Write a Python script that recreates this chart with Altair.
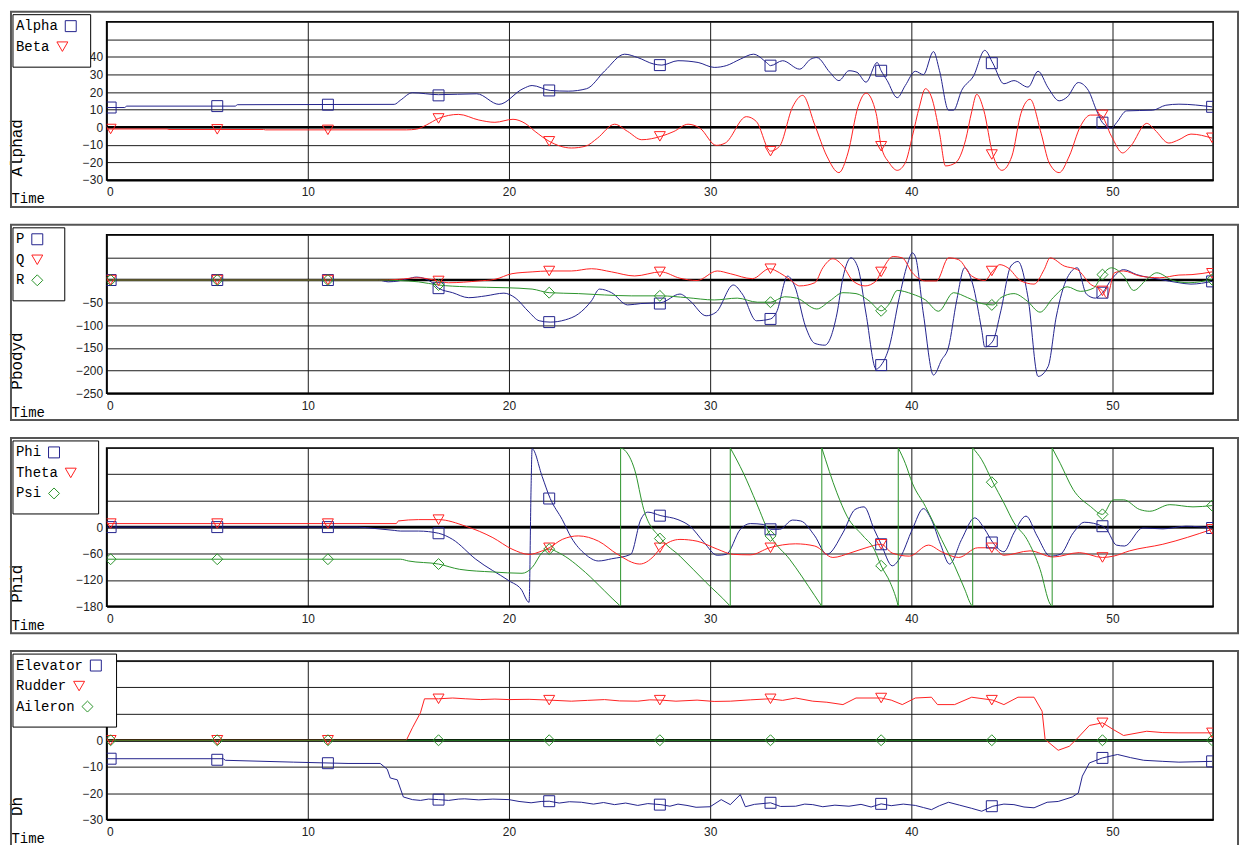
import altair as alt
import pandas as pd

# ---------------- data ----------------
MARK_T = [0.2, 5.5, 11, 16.5, 22, 27.5, 33, 38.5, 44, 49.5, 54.95]

# Panel 1 : Alphad
ALPHA_T = [0, 0.9, 1.0, 6.4, 6.5, 14.3, 14.6, 15.2, 16.5, 18.4, 19.5, 20.7, 21.15, 22.05, 22.95, 23.86,
           24.76, 25.75, 26.4, 27.2, 27.6, 28.4, 29.4, 30.2, 30.8, 31.5, 32.15, 32.8, 33.0, 33.6, 34.45,
           35.0, 35.3, 35.95, 36.4, 36.9, 37.3, 37.75, 38.3, 38.5, 38.8, 39.3, 39.7, 40.2, 40.6, 41.1,
           41.4, 41.85, 42.1, 42.5, 43.1, 43.65, 44.05, 44.6, 45.1, 45.8, 46.3, 46.8, 47.35, 47.75, 48.3,
           48.8, 49.2, 49.5, 49.95, 50.2, 50.7, 52.0, 52.65, 53.3, 54.95]
ALPHA_V = [11.2, 11.2, 12, 12, 12.8, 13, 15.3, 19.6, 18.5, 19, 13, 21.9, 23.7, 20.9, 20.5, 21.9,
           32, 41.5, 39.6, 35.9, 35.3, 37.8, 36.8, 34, 35, 38.7, 41.5, 36.8, 35, 37.8, 33,
           38.7, 39.6, 31.2, 26.5, 32.1, 31.2, 25.6, 36.8, 32.1, 26.5, 16.8, 23.7, 31.8, 29.9, 43,
           32.1, 9.7, 9.7, 20.9, 29.3, 43.7, 36.4, 24.7, 26.5, 22.8, 31.8, 22.4, 15, 17.2, 25.4,
           20.9, 9.7, 2.6, -0.6, 2.6, 9.3, 9.7, 12.5, 13.1, 11.6]
ALPHA_M = [11.2, 12, 12.8, 18.1, 20.9, 35.3, 35, 32.1, 36.4, 2.6, 11.6]

BETA_T = [0, 3.0, 3.1, 7.8, 7.9, 14.9, 15.4, 15.9, 16.5, 17.5, 18.5, 19.3, 20.2, 20.8, 21.3, 22.0, 23.1,
          23.8, 24.4, 25.25, 25.9, 26.6, 27.55, 28.2, 28.9, 29.5, 30.3, 30.75, 31.8, 32.3, 33.0, 33.45,
          34.1, 34.6, 35.2, 35.8, 36.4, 36.85, 37.35, 37.75, 38.25, 38.5, 38.9, 39.3, 39.7, 40.05, 40.4,
          40.7, 41.0, 41.4, 41.7, 42.2, 42.7, 43.0, 43.25, 43.6, 44.05, 44.5, 45.0, 45.45, 45.9, 46.45,
          46.85, 47.35, 47.85, 48.4, 48.9, 49.4, 49.95, 50.5, 50.9, 51.7, 52.1, 52.8, 53.3, 53.9, 54.95]
BETA_V = [-1, -1, -1.3, -1.3, -1.5, -1.5, -1.1, 1.3, 5, 7.3, 4.1, 2.8, 4.5, 2.2, -2.4, -8, -11.8,
          -10.8, -6.2, 1.7, -2.4, -7.1, -5.2, -2.4, 1.7, -0.6, -10.3, -9, 6, 3.2, -13.6, -10.8,
          11.6, 18.1, 1.3, -16.4, -25.8, -14.6, 11.6, 19.4, 7.9, -10.8, -20.2, -24.5, -20.2, -5.2, 11.6,
          21.9, 17.2, -3.2, -22, -20.2, -7.1, 8.8, 18.7, 9.7, -15.5, -24.5, -16.4, 7.9, 15.9, -3.4,
          -20.2, -25.8, -16.4, 0.4, 6.9, 6.9, -5.2, -14.6, -10.8, 2.2, -1.5, -9, -7.1, -3.9, -6.2]
BETA_M = [-1, -1.2, -1.5, 5, -8, -5.2, -13.6, -10.8, -15.5, 7, -6]

# Panel 2 : Pbodyd
P_T = [0, 13.5, 14.0, 14.5, 15.0, 15.4, 16.2, 16.5, 17.2, 18.0, 18.85, 19.75, 20.3, 21.0, 21.5, 22.05,
       22.8, 23.45, 24.1, 24.5, 25.1, 25.9, 26.55, 27.55, 28.5, 29.0, 29.8, 30.3, 31.15, 31.6, 32.3,
       33.0, 33.3, 33.85, 34.2, 34.75, 35.2, 35.7, 36.3, 36.6, 37.0, 37.35, 37.75, 38.25, 38.5, 38.9,
       39.4, 39.8, 40.05, 40.2, 40.6, 41.1, 41.5, 41.85, 42.25, 42.65, 43.05, 43.5, 43.65, 44.05,
       44.45, 44.95, 45.3, 45.8, 46.3, 46.8, 47.2, 47.75, 48.25, 48.7, 49.15, 49.5, 49.95, 50.55,
       51.2, 52.35, 53.3, 53.9, 54.95]
P_V = [0, 0, -4, -2, 3, 6.5, -6, -18, -28, -39, -35, -29, -39, -71, -90, -93,
       -88, -75, -46, -20, -28, -55, -52, -50, -31, -46, -79, -71, -11, -31, -90,
       -86, -71, 8.7, -13, -104, -140, -144, -75, 5, 49, 27, -75, -197, -188, -148,
       -39, 34, 60, 52, -75, -210, -177, -148, -46, 27, -9, -111, -148, -135,
       -68, 31, 41, -39, -213, -191, -82, 5, 27, -31, -40, -28, 1.5, 23,
       12, 1.5, -6, -9, -3]
P_M = [0, 0, 0, -18, -93, -52, -86, -188, -135, -28, -3]

Q_T = [0, 13.5, 14.5, 15.5, 16.5, 17.0, 18.5, 19.3, 20.15, 21.15, 22.0, 23.1, 24.1, 25.1, 26.25, 27.55,
       28.5, 29.35, 30.35, 31.0, 32.1, 32.95, 33.45, 33.95, 34.45, 35.2, 35.6, 36.1, 36.6, 37.1, 37.7,
       38.25, 38.5, 39.1, 39.55, 40.05, 40.7, 41.25, 41.85, 42.35, 43.0, 43.65, 44.05, 44.4, 44.8,
       45.45, 46.1, 46.6, 46.9, 47.6, 48.25, 48.9, 49.5, 49.7, 50.1, 50.55, 51.35, 52.35, 53.3,
       53.95, 54.95]
Q_V = [0, 0, 1.5, 5, -2, -6, -2, 1.5, 14, 18, 20, 20, 25, 18, 9, 18,
       4, -1, 20, 14, 3, 25, 16, 1.5, -13, -6, 27, 47, 31, -2, -13,
       -2, 18, 52, 49, 16, -2, -2, 49, 45, 9, -1, 20, 34, 27,
       -2, -9, 23, 49, 31, 23, -9, -24, -39, 16, 20, 9, 5, 11,
       12, 18]
Q_M = [0, 0, 0, -2, 20, 18, 25, 18, 20, -24, 15]

R_T = [0, 13.5, 14.5, 15.5, 16.5, 17.9, 19.85, 21.15, 22.0, 23.45, 24.75, 26.1, 27.55, 28.85, 30.2,
       31.35, 32.35, 33.0, 33.7, 34.3, 35.3, 35.95, 36.6, 37.25, 37.9, 38.5, 38.9, 39.3, 40.05, 40.7,
       41.35, 42.1, 42.8, 43.5, 44.05, 44.45, 45.1, 45.75, 46.4, 47.05, 47.75, 48.4, 49.05, 49.5,
       49.95, 50.55, 51.05, 51.7, 52.2, 53.0, 53.8, 54.95]
R_V = [0, 0, -1, -4, -11, -15, -17, -20, -28, -30, -33, -35, -35, -39, -44,
       -40, -49, -49, -37, -40, -64, -46, -28, -30, -46, -68, -53, -23, -31, -44,
       -69, -28, -39, -52, -55, -39, -30, -46, -71, -39, -15, -25, -18, 12,
       27, 9, -23, 1.5, 16, -1, -6, 1.5]
R_M = [0, 0, 0, -11, -28, -35, -49, -68, -55, 12, 1]

# Panel 3 : Phid
PHI_T = [0, 12.5, 13.3, 14.3, 14.6, 15.5, 16.5, 17.2, 18.35, 20.0, 20.6, 21.0, 21.1, 21.15, 21.65, 22.05,
         22.65, 23.1, 23.8, 24.45, 25.1, 26.05, 26.55, 26.9, 27.55, 28.4, 29.0, 29.7, 30.35, 30.8, 31.5,
         32.0, 32.65, 33.0, 33.45, 34.1, 34.5, 35.2, 35.8, 36.6, 37.2, 37.65, 38.15, 38.5, 39.05, 39.45,
         40.05, 40.6, 41.0, 41.45, 41.9, 42.5, 43.15, 43.65, 44.05, 44.6, 45.1, 45.7, 46.25, 46.9, 47.4,
         48.05, 48.6, 49.5, 49.7, 50.2, 50.6, 51.5, 52.5, 53.65, 54.95]
PHI_V = [0, 0, -3, -7.5, -9, -9, -14, -28, -73, -122, -141, -171, 93, 178, 115, 65,
         17, -24, -62, -77, -72, -62, 17, 34, 26, 17, 2, -35, -64, -62, -5,
         8, 6, -5, -5, 16, 14, -20, -62, -13, 40, 46, -5, -39, -88, -69,
         -5, 42, 17, -39, -84, -28, 21, -5, -35, -56, -13, 25, -20, -66, -62,
         -13, 11, 2, -5, -41, -43, -2, -4, 2, -2]
PHI_M = [0, 0, 0, -14, 65, 26, -5, -39, -35, 2, -2]

THETA_T = [0, 14.4, 14.5, 15.5, 16.5, 17.85, 19.2, 20.15, 21.0, 21.65, 22.0, 22.65, 23.45, 24.45, 25.4,
           26.5, 27.2, 27.55, 28.5, 29.35, 30.35, 31.15, 32.0, 32.95, 34.25, 35.2, 36.1, 36.95, 37.75,
           38.5, 39.05, 39.9, 40.85, 41.5, 42.35, 43.3, 44.05, 44.6, 45.9, 47.05, 48.35, 49.5, 50.05,
           50.85, 52.5, 54.95]
THETA_V = [8, 8, 14, 17, 17, 2, -24, -50, -62, -54, -47, -28, -20, -32, -62,
           -84, -66, -47, -28, -32, -50, -62, -63, -47, -38, -43, -69, -59, -47,
           -39, -59, -66, -41, -56, -69, -47, -47, -64, -54, -68, -58, -69, -66,
           -54, -39, -5]
THETA_M = [8, 8, 8, 17, -47, -47, -47, -39, -47, -69, -5]

PSI_T = [0, 14.6, 15.0, 16.5, 17.55, 19.2, 20.65, 21.15, 21.65, 22.0, 22.5, 23.8, 24.75, 25.5, 25.55,
         25.55, 25.75, 26.25, 26.7, 27.55, 28.5, 29.8, 30.9, 31.0, 31.0, 31.65, 32.3, 33.0, 33.95, 35.2,
         35.55, 35.55, 36.3, 36.8, 37.6, 38.15, 38.5, 38.95, 39.3, 39.35, 39.35, 39.7, 40.05, 40.7, 41.5,
         42.15, 42.65, 43.0, 43.05, 43.05, 43.5, 44.05, 44.6, 45.1, 45.75, 46.4, 46.9, 47.0, 47.0, 47.4,
         48.05, 48.9, 49.5, 50.05, 50.55, 51.35, 51.85, 52.85, 54.0, 54.95]
PSI_V = [-73, -73, -77, -84, -96, -102, -105, -92, -58, -50, -59, -103, -145, -178, -180,
         180, 175, 130, 40, -26, -66, -126, -175, -180, 180, 123, 55, -20, -73, -156,
         -180, 180, 78, 25, -20, -50, -88, -126, -171, -180, 180, 145, 100, 47, -28,
         -88, -141, -178, -180, 180, 153, 102, 55, 10, -28, -96, -175, -180, 180, 145,
         85, 47, 29, 62, 62, 40, 36, 51, 46, 49]
PSI_M = [-73, -73, -73, -84, -50, -26, -20, -88, 102, 29, 49]

# Panel 4 : Dh
ELEV_T = [0, 5.8, 5.9, 9.3, 12.0, 13.6, 13.95, 14.1, 14.45, 14.75, 15.2, 15.6, 16.0, 16.5, 17.0, 17.5,
          17.8, 18.5, 19.2, 20.0, 20.5, 21.1, 21.6, 22.0, 22.5, 23.0, 23.6, 24.2, 24.7, 25.25, 25.8,
          26.4, 26.9, 27.55, 28.0, 28.4, 28.85, 29.3, 30.0, 30.55, 31.0, 31.5, 31.75, 32.2, 33.0, 33.5,
          34.25, 34.7, 35.1, 35.6, 36.2, 36.9, 37.5, 38.0, 38.5, 39.0, 39.6, 40.2, 40.6, 41.0, 41.4,
          41.85, 42.4, 43.0, 43.5, 44.05, 44.6, 45.1, 45.6, 46.1, 46.75, 47.3, 48.0, 48.3, 48.5, 48.85,
          49.5, 50.25, 50.9, 51.55, 52.5, 53.3, 54.95]
ELEV_V = [-7, -7, -7.6, -8.3, -8.8, -8.8, -11, -14.3, -15, -21.5, -22.5, -22.8, -22.3, -22.5, -22.8, -22.3,
          -22.2, -22.6, -22.3, -22.5, -23.2, -23.7, -23.2, -23.1, -23.8, -23.3, -23.5, -24.2, -23.6, -24.4, -23.8,
          -24.7, -24.0, -24.4, -25.0, -24.2, -24.7, -25.4, -25.2, -22.5, -24.4, -20.6, -25.2, -24.3, -23.7, -25.1,
          -25.0, -24.2, -24.4, -25.2, -24.6, -25.0, -24.3, -25.3, -24.1, -24.8, -24.2, -24.7, -25.5, -26.3, -24.8,
          -23.5, -24.6, -25.8, -26.9, -25.0, -24.2, -24.4, -25.3, -25.6, -23.5, -23.2, -21.5, -20, -13.6, -8.6,
          -6.7, -5.4, -6.6, -7.6, -8.0, -8.3, -8.0]
ELEV_M = [-7, -7.4, -8.7, -22.5, -23.1, -24.4, -23.7, -24.1, -25, -6.7, -8]

RUDD_T = [0, 14.9, 15.2, 15.6, 15.8, 16.5, 17.2, 17.85, 18.6, 19.3, 20.0, 21.0, 22.0, 23.1, 23.9, 24.75,
          25.5, 26.4, 27.0, 27.55, 28.3, 29.35, 30.2, 31.0, 32.0, 32.95, 33.6, 34.25, 35.1, 35.8, 36.6,
          37.25, 38.5, 39.0, 39.55, 40.2, 41.0, 41.3, 42.15, 43.0, 44.05, 44.6, 45.3, 46.1, 46.5, 46.65,
          47.3, 47.85, 48.2, 48.85, 49.5, 50.05, 50.55, 51.7, 52.5, 53.3, 54.95]
RUDD_V = [0, 0, 4.7, 10.4, 15.7, 15.7, 16.0, 15.7, 15.4, 15.6, 15.4, 15.5, 15.2, 14.8, 15.1, 15.4,
          14.9, 14.8, 15.3, 15.2, 14.8, 15.2, 14.7, 14.8, 15.3, 15.7, 15.1, 16, 14.8, 14.4, 13.5,
          16, 16, 15.2, 13.5, 16, 16.3, 13.5, 13.5, 16.3, 15.2, 13.5, 16.3, 16.3, 11, 0.3,
          -3.8, -2.3, 0.3, 5.6, 6.6, 4, 1.8, 3.4, 2.9, 2.8, 2.8]
RUDD_M = [0, 0, 0, 15.7, 15.2, 15.2, 15.7, 16, 15.2, 6.6, 2.8]

AIL_T = [0, 54.95]
AIL_V = [0, 0]
AIL_M = [0, 0, 0, 0, 0, 0, 0, 0, 0, 0, 0]

# ---------------- styling ----------------
BLUE, RED, GREEN = "#22228c", "#ff2020", "#2a932a"
SHAPES = ["square", "triangle-down", "diamond"]
COLORS = [BLUE, RED, GREEN]
W, H = 1111, 159
MONO = "Liberation Mono"
SANS = "Liberation Sans"
FX0, FY0 = -96, -10       # outer frame top-left, relative to plot area


def segments(T, V):
    """Split a series where time repeats (angle wrap) so each piece is strictly increasing;
    the wrap jump itself becomes its own two-point piece."""
    segs, cur = [], [(T[0], V[0])]
    for j in range(1, len(T)):
        if T[j] == T[j - 1]:
            segs.append(cur)
            segs.append([(T[j - 1], V[j - 1]), (T[j], V[j])])
            cur = [(T[j], V[j])]
        else:
            cur.append((T[j], V[j]))
    segs.append(cur)
    return segs


def build_panel(series, ydom, yvals, lab_expr, ytitle, box_right, interp):
    names = [s[0] for s in series]
    line_rows, mark_rows = [], []
    for k, (name, T, V, M) in enumerate(series):
        for s, seg in enumerate(segments(T, V)):
            for i, (t, v) in enumerate(seg):
                line_rows.append({"seg": f"{name}-{s}", "t": t, "v": v, "i": i, "col": COLORS[k]})
        for t, v in zip(MARK_T, M):
            mark_rows.append({"series": name, "t": t, "v": v, "col": COLORS[k], "shp": SHAPES[k]})
    lines_df = pd.DataFrame(line_rows)
    marks_df = pd.DataFrame(mark_rows)

    x_enc = alt.X("t:Q", scale=alt.Scale(domain=[0, 55], nice=False, zero=False),
                  axis=alt.Axis(values=[0, 10, 20, 30, 40, 50], tickCount=40, ticks=True,
                                tickSize=4, tickOpacity=0, labelPadding=3,
                                domainWidth=2, title="Time", titleX=FX0, titleY=19,
                                titleAlign="left", titleBaseline="middle", titleFontSize=14))
    y_enc = alt.Y("v:Q", scale=alt.Scale(domain=ydom, nice=False, zero=False),
                  axis=alt.Axis(values=yvals, tickCount=40, labelExpr=lab_expr, labelPadding=4,
                                labelOverlap=False,
                                title=ytitle, titleAngle=270, titleX=-90, titleY=155,
                                titleAlign="left", titleBaseline="middle", titleFontSize=16))

    one = pd.DataFrame({"k": [0]})
    zero = alt.Chart(one).mark_rule(color="black", strokeWidth=2.5).encode(y=alt.datum(0))
    lines = alt.Chart(lines_df).mark_line(strokeWidth=1, clip=True, interpolate=interp).encode(
        x=x_enc, y=y_enc, color=alt.Color("col:N", scale=None), detail="seg:N", order="i:Q")
    marks = alt.Chart(marks_df).mark_point(filled=False, size=121, strokeWidth=1, opacity=1,
                                           clip=True).encode(
        x=x_enc, y=y_enc, color=alt.Color("col:N", scale=None), shape=alt.Shape("shp:N", scale=None))
    frame = alt.Chart(one).mark_rect(fillOpacity=0, stroke="#555555", strokeWidth=2).encode(
        x=alt.value(FX0), x2=alt.value(1136), y=alt.value(FY0), y2=alt.value(186))
    nrow = len(names)
    box = alt.Chart(one).mark_rect(fill="white", stroke="black", strokeWidth=1).encode(
        x=alt.value(-94), x2=alt.value(box_right), y=alt.value(-7), y2=alt.value(4.5 + 20.6 * nrow))
    items = []
    for k, name in enumerate(names):
        yy = 4.5 + 20.6 * k
        items.append(alt.Chart(pd.DataFrame({"name": [name]})).mark_text(
            align="left", baseline="middle", font=MONO, fontSize=14, color="black").encode(
            text="name:N", x=alt.value(-91), y=alt.value(yy)))
        items.append(alt.Chart(one).mark_point(
            shape=SHAPES[k], filled=False, size=121, strokeWidth=1, color=COLORS[k], opacity=1).encode(
            x=alt.value(-91 + 8.4 * len(name) + 13), y=alt.value(yy)))
    return alt.layer(zero, lines, marks, frame, box, *items).properties(width=W, height=H)


p1 = build_panel([("Alpha", ALPHA_T, ALPHA_V, ALPHA_M), ("Beta", BETA_T, BETA_V, BETA_M)],
                 [-30, 60], list(range(-30, 61, 10)), "datum.value <= 40 ? datum.label : ''",
                 "Alphad", -16, "monotone")
p2 = build_panel([("P", P_T, P_V, P_M), ("Q", Q_T, Q_V, Q_M), ("R", R_T, R_V, R_M)],
                 [-250, 100], list(range(-250, 101, 50)), "datum.value < 0 ? datum.label : ''",
                 "Pbodyd", -42, "monotone")
p3 = build_panel([("Phi", PHI_T, PHI_V, PHI_M), ("Theta", THETA_T, THETA_V, THETA_M),
                  ("Psi", PSI_T, PSI_V, PSI_M)],
                 [-180, 180], list(range(-180, 181, 60)), "datum.value <= 0 ? datum.label : ''",
                 "Phid", -8, "monotone")
p4 = build_panel([("Elevator", ELEV_T, ELEV_V, ELEV_M), ("Rudder", RUDD_T, RUDD_V, RUDD_M),
                  ("Aileron", AIL_T, AIL_V, AIL_M)],
                 [-30, 30], list(range(-30, 31, 10)), "datum.value <= 0 ? datum.label : ''",
                 "Dh", 10, "linear")

chart = alt.vconcat(p1, p2, p3, p4, spacing=55, bounds="flush").properties(
    padding=0, background="white"
).configure_view(
    stroke="black", strokeWidth=1.5
).configure_axis(
    grid=True, gridColor="#1a1a1a", gridWidth=1, gridOpacity=1,
    domain=True, domainColor="black", ticks=False,
    labelFont=SANS, labelFontSize=12, labelColor="#222222",
    titleFont=MONO, titleFontWeight="normal", titleColor="black"
)

chart.save("out.html", embed_options={"renderer": "svg", "actions": False})
